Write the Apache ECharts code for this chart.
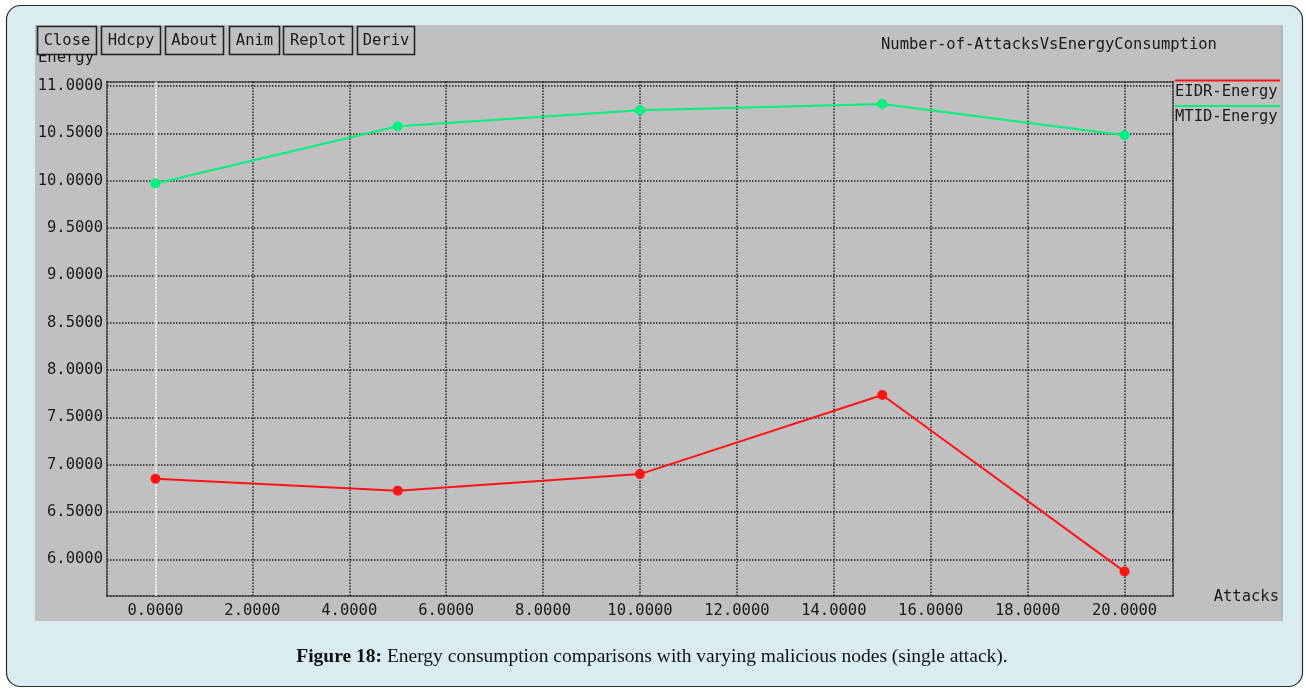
<!DOCTYPE html>
<html>
<head>
<meta charset="utf-8">
<script src="https://cdn.jsdelivr.net/npm/echarts@6/dist/echarts.min.js"></script>
<style>
  html, body { margin: 0; padding: 0; background: #ffffff; }
  #chart { width: 1306px; height: 689px; }
</style>
</head>
<body>
<div id="chart"></div>
<script>
// Number of attacks on the x axis, energy consumed on the y axis
const attacks = [0, 5, 10, 15, 20];
const eidrEnergy = [6.85, 6.725, 6.90, 7.735, 5.87];
const mtidEnergy = [9.97, 10.575, 10.745, 10.81, 10.48];
const seriesNames = ['EIDR-Energy', 'MTID-Energy'];
const seriesColors = ['#ff1414', '#00f07c'];

const xTicks = [0, 2, 4, 6, 8, 10, 12, 14, 16, 18, 20];
const yTicks = [6.0, 6.5, 7.0, 7.5, 8.0, 8.5, 9.0, 9.5, 10.0, 10.5, 11.0];
const xRange = [-1, 21];
const yRange = [5.612, 11.048];

const chartTitle = 'Number-of-AttacksVsEnergyConsumption';
const xName = 'Attacks';
const yName = 'Energy';
const buttonLabels = ['Close', 'Hdcpy', 'About', 'Anim', 'Replot', 'Deriv'];
const captionHead = 'Figure 18:';
const captionBody = ' Energy consumption comparisons with varying malicious nodes (single attack).';

const MONO = '"DejaVu Sans Mono", "Liberation Mono", monospace';
const SERIF = '"Liberation Serif", serif';
const INK = '#1a1a1a';
const PANEL = '#c0c0c0';
const GRID_LINE = { color: '#202020', width: 1.5, type: [1.5, 1.5] };

const chart = echarts.init(document.getElementById('chart'), null, { renderer: 'canvas' });

const toPairs = (ys) => attacks.map((x, i) => [x, ys[i]]);
const fmt4 = (v) => Number(v).toFixed(4);

// Toolbar buttons across the top of the panel
const buttonBoxes = [[37, 59], [101, 59], [165, 58], [229, 50], [283, 69], [357, 57]];
const buttons = [];
buttonLabels.forEach((label, i) => {
  const [bx, bw] = buttonBoxes[i];
  buttons.push({
    type: 'rect', z: 100,
    shape: { x: bx + 0.5, y: 26.5, width: bw, height: 28 },
    style: { fill: PANEL, stroke: '#222', lineWidth: 1.6 }
  });
  buttons.push({
    type: 'text', z: 101,
    x: bx + bw / 2 + 0.5, y: 40.5,
    style: { text: label, font: '15.5px ' + MONO, fill: INK, align: 'center', verticalAlign: 'middle' }
  });
});

// Legend: coloured rule above each series name, right of the plot
const legendItems = [];
seriesNames.forEach((name, i) => {
  const ly = 80.5 + i * 25.5;
  legendItems.push({
    type: 'line', z: 20,
    shape: { x1: 1175, y1: ly, x2: 1280, y2: ly },
    style: { stroke: seriesColors[i], lineWidth: 2 }
  });
  legendItems.push({
    type: 'text', z: 20,
    x: 1175, y: ly + 11,
    style: { text: name, font: '15.5px ' + MONO, fill: INK, align: 'left', verticalAlign: 'middle' }
  });
});

const option = {
  animation: false,
  backgroundColor: '#ffffff',
  title: {
    text: chartTitle,
    left: 881, top: 37,
    padding: 0,
    textStyle: { fontFamily: MONO, fontSize: 15.5, fontWeight: 'normal', color: INK }
  },
  grid: { left: 107, right: 133, top: 81.5, bottom: 93, containLabel: false },
  xAxis: [
    {
      type: 'value', min: xRange[0], max: xRange[1],
      axisLine: { show: true, onZero: false, lineStyle: GRID_LINE },
      axisTick: { show: false, customValues: xTicks },
      axisLabel: { customValues: xTicks, formatter: fmt4, margin: 7,
        fontFamily: MONO, fontSize: 15.5, color: INK },
      splitLine: { show: true, lineStyle: GRID_LINE }
    },
    {
      type: 'value', position: 'top', min: xRange[0], max: xRange[1],
      axisLine: { show: true, onZero: false, lineStyle: GRID_LINE },
      axisTick: { show: false }, axisLabel: { show: false }, splitLine: { show: false }
    }
  ],
  yAxis: [
    {
      type: 'value', min: yRange[0], max: yRange[1],
      axisLine: { show: true, onZero: false, lineStyle: GRID_LINE },
      axisTick: { show: false, customValues: yTicks },
      axisLabel: { customValues: yTicks, formatter: fmt4, margin: 4,
        fontFamily: MONO, fontSize: 15.5, color: INK },
      splitLine: { show: true, lineStyle: GRID_LINE }
    },
    {
      type: 'value', position: 'right', min: yRange[0], max: yRange[1],
      axisLine: { show: true, onZero: false, lineStyle: GRID_LINE },
      axisTick: { show: false }, axisLabel: { show: false }, splitLine: { show: false }
    }
  ],
  series: [
    {
      name: seriesNames[0], type: 'line', data: toPairs(eidrEnergy),
      symbol: 'circle', symbolSize: 10, z: 5,
      lineStyle: { color: seriesColors[0], width: 2 },
      itemStyle: { color: seriesColors[0] },
      // white zero line through x = 0
      markLine: {
        silent: true, symbol: 'none', animation: false,
        label: { show: false },
        lineStyle: { color: '#ffffff', type: 'solid', width: 1.5 },
        data: [{ xAxis: 0 }]
      }
    },
    {
      name: seriesNames[1], type: 'line', data: toPairs(mtidEnergy),
      symbol: 'circle', symbolSize: 10, z: 5,
      lineStyle: { color: seriesColors[1], width: 2 },
      itemStyle: { color: seriesColors[1] }
    }
  ],
  graphic: [
    // page card with rounded border
    {
      type: 'rect', z: -20,
      shape: { x: 6.5, y: 5.5, width: 1296, height: 681, r: 14 },
      style: { fill: '#d9ecf2', stroke: '#2b2b2b', lineWidth: 1.2 }
    },
    // grey plotting window
    {
      type: 'rect', z: -10,
      shape: { x: 35, y: 25, width: 1248, height: 596 },
      style: { fill: PANEL }
    },
    {
      type: 'line', z: -9,
      shape: { x1: 1282, y1: 25, x2: 1282, y2: 621 },
      style: { stroke: '#adadad', lineWidth: 1 }
    },
    // axis names
    {
      type: 'text', z: 50, x: 38, y: 58,
      style: { text: yName, font: '15.5px ' + MONO, fill: INK, align: 'left', verticalAlign: 'middle' }
    },
    {
      type: 'text', z: 50, x: 1279, y: 597,
      style: { text: xName, font: '15.5px ' + MONO, fill: INK, align: 'right', verticalAlign: 'middle' }
    },
    // figure caption
    {
      type: 'text', z: 50, x: 652, y: 657,
      style: {
        text: '{b|' + captionHead + '}' + captionBody,
        font: '19.5px ' + SERIF, fill: '#111',
        align: 'center', verticalAlign: 'middle',
        rich: { b: { fontWeight: 'bold', fontSize: 19.5, fontFamily: SERIF, fill: '#111' } }
      }
    }
  ].concat(buttons, legendItems)
};

chart.setOption(option);
</script>
</body>
</html>
